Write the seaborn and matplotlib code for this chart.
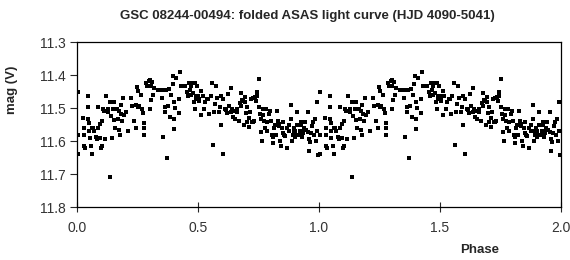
import matplotlib
matplotlib.use("Agg")
import matplotlib.pyplot as plt
import numpy as np
import pandas as pd
import seaborn as sns

# one folded cycle (phase 0-1); plotted twice (0-2)
PHASE = [
    0.003, 0.006, 0.006, 0.025, 0.028, 0.030, 0.028, 0.033, 0.047, 0.047,
    0.044, 0.050, 0.050, 0.052, 0.058, 0.064, 0.061, 0.066, 0.072, 0.077,
    0.083, 0.088, 0.088, 0.094, 0.097, 0.099, 0.102, 0.105, 0.108, 0.110,
    0.116, 0.122, 0.127, 0.130, 0.135, 0.138, 0.141, 0.144, 0.148, 0.152,
    0.155, 0.157, 0.166, 0.171, 0.174, 0.174, 0.177, 0.180, 0.182, 0.188,
    0.191, 0.196, 0.204, 0.213, 0.224, 0.227, 0.235, 0.243, 0.246, 0.249,
    0.251, 0.254, 0.257, 0.265, 0.268, 0.273, 0.276, 0.276, 0.279, 0.287,
    0.290, 0.296, 0.301, 0.304, 0.301, 0.307, 0.309, 0.315, 0.320, 0.334,
    0.343, 0.351, 0.354, 0.356, 0.362, 0.365, 0.370, 0.373, 0.378, 0.381,
    0.384, 0.390, 0.395, 0.398, 0.401, 0.401, 0.403, 0.406, 0.409, 0.420,
    0.423, 0.425, 0.431, 0.439, 0.448, 0.453, 0.459, 0.464, 0.467, 0.470,
    0.472, 0.478, 0.481, 0.483, 0.486, 0.489, 0.492, 0.494, 0.497, 0.500,
    0.503, 0.506, 0.514, 0.514, 0.519, 0.525, 0.530, 0.536, 0.541, 0.547,
    0.552, 0.558, 0.561, 0.566, 0.572, 0.575, 0.580, 0.586, 0.591, 0.594,
    0.597, 0.602, 0.605, 0.610, 0.616, 0.619, 0.624, 0.630, 0.635,
    0.638, 0.641, 0.646, 0.649, 0.654, 0.660, 0.663, 0.668, 0.674, 0.677,
    0.679, 0.682, 0.688, 0.690, 0.693, 0.696, 0.699, 0.701, 0.704, 0.710,
    0.712, 0.715, 0.718, 0.723, 0.726, 0.729, 0.732, 0.735, 0.740, 0.743,
    0.746, 0.751, 0.754, 0.757, 0.759, 0.762, 0.765, 0.768, 0.770, 0.773,
    0.779, 0.781, 0.784, 0.787, 0.792, 0.798, 0.801, 0.806, 0.809, 0.812,
    0.815, 0.820, 0.823, 0.826, 0.831, 0.834, 0.837, 0.839, 0.845, 0.848,
    0.850, 0.853, 0.856, 0.861, 0.867, 0.870, 0.875, 0.878, 0.884, 0.886,
    0.889, 0.892, 0.895, 0.897, 0.900, 0.903, 0.906, 0.908, 0.911, 0.917,
    0.919, 0.922, 0.925, 0.928, 0.930, 0.933, 0.936, 0.939, 0.944, 0.947,
    0.953, 0.955, 0.958, 0.961, 0.964, 0.966, 0.972, 0.977, 0.980, 0.983,
    0.988, 0.991, 0.994, 0.997,
]
MAG = [
    11.450, 11.582, 11.639, 11.529, 11.561, 11.580, 11.615, 11.620, 11.462, 11.497,
    11.533, 11.546, 11.570, 11.590, 11.615, 11.639, 11.559, 11.561, 11.570, 11.588,
    11.592, 11.497, 11.559, 11.549, 11.590, 11.620, 11.539, 11.615, 11.501, 11.509,
    11.592, 11.462, 11.501, 11.511, 11.482, 11.708, 11.523, 11.590, 11.503, 11.536,
    11.482, 11.561, 11.503, 11.533, 11.509, 11.565, 11.580, 11.490, 11.516, 11.539,
    11.470, 11.521, 11.511, 11.570, 11.470, 11.492, 11.539, 11.490, 11.561, 11.437,
    11.447, 11.497, 11.492, 11.460, 11.501, 11.515, 11.582, 11.546, 11.561, 11.423,
    11.434, 11.418, 11.415, 11.433, 11.503, 11.474, 11.421, 11.460, 11.440, 11.444,
    11.444, 11.470, 11.444, 11.586, 11.497, 11.511, 11.444, 11.649, 11.492, 11.442,
    11.526, 11.460, 11.428, 11.401, 11.533, 11.563, 11.480, 11.500, 11.408, 11.472,
    11.515, 11.391, 11.433, 11.434, 11.433, 11.450, 11.462, 11.425, 11.444, 11.434,
    11.460, 11.423, 11.454, 11.482, 11.425, 11.501, 11.472, 11.464, 11.434, 11.462,
    11.472, 11.477, 11.447, 11.521, 11.462, 11.501, 11.482, 11.472, 11.472, 11.516,
    11.464, 11.423, 11.610, 11.511, 11.487, 11.434, 11.470, 11.511, 11.497, 11.551,
    11.462, 11.637, 11.472, 11.501, 11.506, 11.513, 11.457, 11.494, 11.511,
    11.440, 11.501, 11.526, 11.507, 11.533, 11.511, 11.501, 11.539, 11.484, 11.494,
    11.454, 11.474, 11.477, 11.551, 11.467, 11.482, 11.515, 11.497, 11.541, 11.529,
    11.557, 11.511, 11.472, 11.541, 11.470, 11.541, 11.539, 11.467, 11.477, 11.462,
    11.450, 11.413, 11.497, 11.516, 11.572, 11.533, 11.600, 11.519, 11.503, 11.537,
    11.561, 11.503, 11.570, 11.541, 11.517, 11.507, 11.539, 11.582, 11.586, 11.606,
    11.559, 11.551, 11.582, 11.509, 11.539, 11.553, 11.549, 11.600, 11.614, 11.561,
    11.574, 11.543, 11.580, 11.584, 11.620, 11.561, 11.551, 11.570, 11.533, 11.490,
    11.600, 11.580, 11.568, 11.561, 11.588, 11.570, 11.580, 11.511, 11.551, 11.580,
    11.582, 11.570, 11.541, 11.551, 11.588, 11.568, 11.575, 11.559, 11.541, 11.566,
    11.511, 11.572, 11.630, 11.592, 11.602, 11.576, 11.553, 11.541, 11.580, 11.533,
    11.600, 11.568, 11.480, 11.641,
]
X_TICKS = [0.0, 0.5, 1.0, 1.5, 2.0]
Y_TICKS = [11.3, 11.4, 11.5, 11.6, 11.7, 11.8]

sns.set_style("ticks")
plt.rcParams["font.family"] = ["Liberation Sans", "DejaVu Sans"]

one = pd.DataFrame({"phase": PHASE, "mag": MAG})
df = pd.concat([one, one.assign(phase=one["phase"] + 1.0)], ignore_index=True)

fig = plt.figure(figsize=(5.7, 2.6), dpi=100)
ax = fig.add_axes([0.135, 0.202, 0.849, 0.636])
sns.scatterplot(data=df, x="phase", y="mag", ax=ax, marker="s", s=8,
                color="black", linewidth=0, legend=False)

ax.set_xlim(0.0, 2.0)
ax.set_ylim(11.8, 11.3)
ax.set_xticks(X_TICKS)
ax.set_xticklabels([f"{v:.1f}" for v in X_TICKS], fontsize=10, color="#333333")
ax.set_yticks(Y_TICKS)
ax.set_yticklabels([f"{v:.1f}" for v in Y_TICKS], fontsize=10, color="#333333")
ax.tick_params(axis="x", direction="inout", length=7, width=0.8, pad=6)
ax.tick_params(axis="y", direction="out", length=5, width=0.8, pad=3)
for sp in ax.spines.values():
    sp.set_visible(True)
    sp.set_linewidth(0.9)
    sp.set_color("black")

ax.set_xlabel("Phase", fontsize=9.5, fontweight="bold")
ax.xaxis.set_label_coords(0.833, -0.22)
ax.set_ylabel("mag (V)", fontsize=9.5, fontweight="bold")
ax.yaxis.set_label_coords(-0.122, 0.71)

fig.text(0.54, 0.94, "GSC 08244-00494: folded ASAS light curve (HJD 4090-5041)",
         ha="center", va="center", fontsize=9.5, fontweight="bold")

fig.savefig("out.png", dpi=100)
